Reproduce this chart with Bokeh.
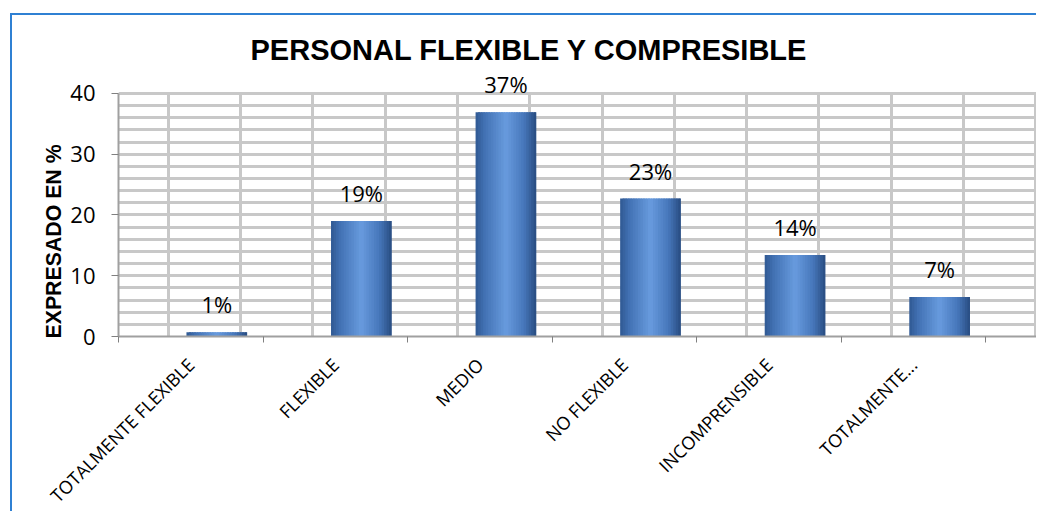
import math
from bokeh.plotting import figure
from bokeh.models import Range1d, FixedTicker, LabelSet, ColumnDataSource, Title
from bokeh.core.properties import value
from bokeh.embed import file_html
from bokeh.resources import INLINE

# ---- data ----
categories = ["TOTALMENTE FLEXIBLE", "FLEXIBLE", "MEDIO", "NO FLEXIBLE", "INCOMPRENSIBLE", "TOTALMENTE..."]
values = [0.7, 19.0, 36.9, 22.7, 13.4, 6.5]
value_labels = ["1%", "19%", "37%", "23%", "14%", "7%"]
y_ticks = [0, 10, 20, 30, 40]
title_text = "PERSONAL FLEXIBLE Y COMPRESIBLE"
y_title = "EXPRESADO EN %"

# ---- figure ----
X_END = 6.35
Y_MAX = 40
Y_END = 43.786
p = figure(frame_width=918, frame_height=266, x_range=Range1d(0, X_END), y_range=Range1d(0, Y_END),
           output_backend="svg", toolbar_location=None,
           min_border_left=106, min_border_right=2, min_border_top=55, min_border_bottom=177)
p.styles = {"margin-left": "10px", "margin-top": "13px",
            "border-left": "2px solid #2f80d3", "border-top": "2px solid #2f80d3",
            "width": "1026px", "height": "498px", "overflow": "hidden"}
p.outline_line_color = None
p.background_fill_color = "white"
p.border_fill_color = "white"

centers = [i + 0.5 for i in range(len(categories))]

# grids
p.ygrid.ticker = FixedTicker(ticks=list(range(0, Y_MAX + 1, 2)))
p.xgrid.ticker = FixedTicker(ticks=[0.345 + 0.5 * k for k in range(13)])
p.xgrid.cross_bounds = (0, Y_MAX)
for g in (p.xgrid, p.ygrid):
    g.grid_line_color = "#c8c8c8"
    g.grid_line_width = 3

# x axis
xa = p.xaxis[0]
xa.ticker = FixedTicker(ticks=centers, minor_ticks=list(range(len(categories) + 1)))
xa.major_label_overrides = {c: lab for c, lab in zip(centers, categories)}
xa.major_label_orientation = math.pi / 4
xa.major_tick_out = 0
xa.major_tick_in = 0
xa.minor_tick_out = 6
xa.minor_tick_in = 0
xa.minor_tick_line_color = "#808080"
xa.axis_line_color = "#a0a0a0"
xa.axis_line_width = 2
xa.major_label_text_font = "Open Sans"
xa.major_label_text_font_size = "18px"
xa.major_label_text_color = "black"
xa.major_label_standoff = 19

# y axis
ya = p.yaxis[0]
ya.ticker = FixedTicker(ticks=y_ticks)
ya.bounds = (0, Y_MAX)
ya.major_tick_out = 7
ya.major_tick_in = 0
ya.minor_tick_line_color = None
ya.major_tick_line_color = "#808080"
ya.axis_line_color = "#a0a0a0"
ya.axis_line_width = 2
ya.major_label_text_font = "Open Sans"
ya.major_label_text_font_size = "22px"
ya.major_label_text_color = "black"
ya.major_label_standoff = 16

# bars with cylinder-like gradient
N = 24
offset = 0.18
bw = 0.42
stops = [(0.0, (48, 88, 146)), (0.15, (66, 114, 180)), (0.5, (104, 155, 222)),
         (0.8, (70, 118, 186)), (1.0, (40, 76, 128))]

def grad(t):
    for (t0, c0), (t1, c1) in zip(stops[:-1], stops[1:]):
        if t0 <= t <= t1:
            f = (t - t0) / (t1 - t0)
            return "#%02x%02x%02x" % tuple(int(round(a + (b - a) * f)) for a, b in zip(c0, c1))
    return "#%02x%02x%02x" % stops[-1][1]

for i in range(N):
    w = bw / N * (1.0 if i == N - 1 else 1.8)
    xs = [c + offset - bw / 2 + i * bw / N + w / 2 for c in centers]
    p.vbar(x=xs, top=values, bottom=0, width=w,
           fill_color=grad((i + 0.5) / N), line_color=None)

# value labels
src = ColumnDataSource(dict(x=[c + offset for c in centers], y=values, t=value_labels))
p.add_layout(LabelSet(x="x", y="y", text="t", source=src, y_offset=28,
                      text_align="center", text_baseline="middle",
                      text_font=value("Open Sans"), text_font_size=value("22px"),
                      text_color="black"))

# title
p.title.text = title_text
p.title.align = "left"
p.title.offset = 132
p.title.standoff = 10
p.title.text_font = "Liberation Sans"
p.title.text_font_style = "bold"
p.title.text_font_size = "29px"
p.title.text_color = "black"

# y axis title
p.add_layout(Title(text=y_title, align="left", offset=-2, standoff=4,
                   text_font="Liberation Sans", text_font_style="bold",
                   text_font_size="21.3px", text_color="black"), "left")

open("out.html", "w").write(file_html(p, INLINE))
